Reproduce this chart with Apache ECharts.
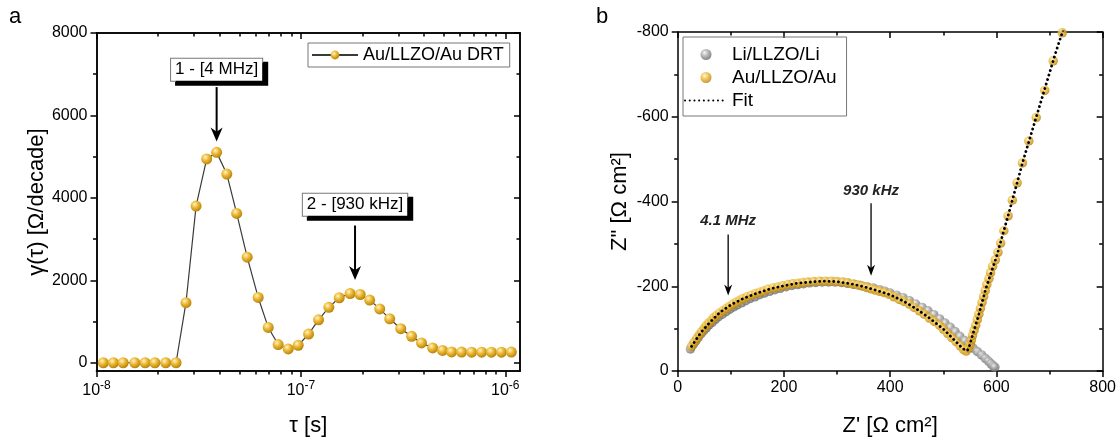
<!DOCTYPE html>
<html><head><meta charset="utf-8">
<script src="https://cdn.jsdelivr.net/npm/echarts@6/dist/echarts.min.js"></script>
<style>html,body{margin:0;padding:0;background:#fff}#c{width:1119px;height:442px}</style>
</head><body><div id="c"></div>
<script>
// ---------- Panel a: DRT ----------
const tauA = [1.08e-8, 1.21e-8, 1.35e-8, 1.54e-8, 1.73e-8, 1.93e-8, 2.18e-8, 2.45e-8, 2.74e-8, 3.07e-8,
  3.46e-8, 3.87e-8, 4.34e-8, 4.85e-8, 5.46e-8, 6.18e-8, 6.92e-8, 7.74e-8, 8.67e-8, 9.70e-8,
  1.09e-7, 1.22e-7, 1.37e-7, 1.54e-7, 1.74e-7, 1.95e-7, 2.17e-7, 2.43e-7, 2.72e-7, 3.08e-7,
  3.48e-7, 3.89e-7, 4.41e-7, 4.93e-7, 5.46e-7, 6.11e-7, 6.84e-7, 7.66e-7, 8.55e-7, 9.57e-7, 1.07e-6];
const gammaA = [0, 0, 0, 0, 0, 0, 0, 0, 1457, 3801,
  4944, 5104, 4577, 3624, 2561, 1584, 857, 442, 336, 425,
  696, 1042, 1344, 1577, 1680, 1656, 1521, 1306, 1066, 826,
  641, 480, 360, 298, 262, 258, 257, 257, 257, 257, 258];
const drtName = 'Au/LLZO/Au DRT';
const xMajorA = [1e-8, 1e-7, 1e-6];
const xMinorA = [2e-8, 3e-8, 4e-8, 5e-8, 6e-8, 7e-8, 8e-8, 9e-8, 2e-7, 3e-7, 4e-7, 5e-7, 6e-7, 7e-7, 8e-7, 9e-7];
const yMajorA = [0, 2000, 4000, 6000, 8000];
const yMinorA = [1000, 3000, 5000, 7000];
const peakLabelsA = ['1 - [4 MHz]', '2 - [930 kHz]'];
const peakTauA = [3.87e-8, 1.84e-7];

// ---------- Panel b: Nyquist ----------
const zreLi = [24, 29, 34, 39, 44, 49, 54, 59, 65, 71, 77, 84, 91, 98, 105, 112, 120, 128, 136, 145,
  154, 163, 173, 183, 193, 204, 215, 226, 237, 248, 260, 272, 284, 296, 308, 320, 332, 344, 356, 368,
  380, 390, 400, 412, 424, 436, 448, 460, 471, 482, 493, 503, 513, 522, 531, 540, 548, 556, 564, 572,
  579, 585, 590, 594, 597];
const zimLi = [-52, -62, -71, -80, -88, -95, -102, -109, -115, -122, -128, -134, -140, -146, -151, -156, -161, -166, -171, -175,
  -180, -184, -188, -192, -195, -199, -202, -204, -206, -208, -209, -210, -210, -210, -209, -207, -205, -202, -199, -196,
  -192, -188, -184, -179, -173, -166, -158, -150, -142, -133, -123, -113, -103, -93, -82, -72, -63, -54, -46, -38,
  -30, -23, -17, -12, -9];
const zreAu = [26, 31, 36, 41, 45, 50, 54, 59, 64, 68, 73, 79, 86, 92, 98, 104, 111, 117, 123, 131,
  139, 147, 155, 162, 170, 180, 189, 198, 208, 217, 227, 236, 245, 256, 267, 278, 289, 300, 311, 320,
  330, 339, 348, 356, 364, 372, 380, 389, 398, 407, 417, 426, 436, 445, 455, 464, 474, 483, 493, 500,
  508, 516, 524, 532, 538, 543, 548, 551, 553, 555, 558, 561, 564, 567, 570, 573, 576, 579, 582, 586,
  589, 593, 598, 603, 608, 614, 622, 630, 639, 649, 661, 675, 691, 707, 724];
const zimAu = [-58, -68, -77, -86, -93, -101, -108, -114, -120, -126, -131, -137, -143, -148, -153, -158, -163, -167, -171, -175,
  -179, -183, -186, -189, -193, -196, -198, -201, -204, -206, -207, -209, -210, -211, -212, -212, -212, -211, -210, -208,
  -205, -203, -200, -197, -194, -191, -188, -185, -181, -175, -169, -164, -158, -150, -142, -134, -125, -117, -108, -99,
  -89, -79, -69, -59, -51, -47, -54, -63, -73, -84, -96, -108, -121, -134, -148, -162, -176, -190, -204, -218,
  -232, -247, -262, -280, -302, -331, -366, -403, -444, -491, -543, -598, -662, -732, -798];
const zreFit = [26, 35, 45, 60, 80, 100, 125, 150, 175, 200, 225, 250, 275, 300, 325, 350, 375, 400, 425,
  450, 475, 500, 520, 535, 541, 545, 548, 555, 565, 580, 600, 625, 650, 680, 710, 730];
const zimFit = [-58, -75, -93, -114, -139, -156, -172, -184, -194, -201, -207, -210, -212, -211, -206, -199, -190, -180, -165,
  -146, -124, -99, -74, -55, -49, -48, -54, -84, -125, -194, -269, -380, -495, -620, -745, -822];
const seriesNamesB = ['Li/LLZO/Li', 'Au/LLZO/Au', 'Fit'];
const freqLabelsB = ['4.1 MHz', '930 kHz'];
const freqZreB = [95, 364];

// ---------- build ----------
const FONT = "'Liberation Sans', Arial, Helvetica, sans-serif";
const AX = {color: '#000', width: 1.5};
const zip = (a, b) => a.map((v, i) => [v, b[i]]);
function sphere(c0, c1, c2) {
  return new echarts.graphic.RadialGradient(0.38, 0.34, 0.66, [
    {offset: 0, color: c0}, {offset: 0.45, color: c1}, {offset: 1, color: c2}]);
}
const gold = sphere('#fff5c8', '#eebb38', '#b8840c');
const gray = sphere('#f5f5f5', '#a9a9a9', '#6a6a6a');
const supFmt = v => '10{s|' + Math.round(Math.log10(v)) + '}';
const plainFmt = v => String(v);

function logX(pos, vals, len, inside, labels, extra) {
  return Object.assign({
    type: 'log', gridIndex: 0, position: pos, min: 1e-8, max: 1.18e-6, logBase: 10,
    axisLine: {show: true, onZero: false, lineStyle: AX},
    axisTick: {show: true, inside: inside, length: len, customValues: vals, lineStyle: AX},
    axisLabel: labels ? {customValues: vals, formatter: supFmt, fontSize: 16, color: '#000', fontFamily: FONT, margin: 9,
      rich: {s: {fontSize: 12, fontFamily: FONT, color: '#000', padding: [0, 0, 9, 0]}}} : {show: false},
    splitLine: {show: false}, minorTick: {show: false}
  }, extra || {});
}
function valYA(pos, vals, len, inside, labels, extra) {
  return Object.assign({
    type: 'value', gridIndex: 0, position: pos, min: -200, max: 8000,
    axisLine: {show: true, onZero: false, lineStyle: AX},
    axisTick: {show: true, inside: inside, length: len, customValues: vals, lineStyle: AX},
    axisLabel: labels ? {customValues: vals, formatter: plainFmt, fontSize: 16, color: '#000', fontFamily: FONT, margin: 9} : {show: false},
    splitLine: {show: false}
  }, extra || {});
}

const option = {
  animation: false,
  backgroundColor: '#fff',
  textStyle: {fontFamily: FONT},
  grid: [
    {left: 96.5, top: 33, width: 423.5, height: 342},
    {left: 677.7, top: 32, width: 426, height: 342.5}
  ],
  xAxis: [
    logX('bottom', xMajorA, 6, false, true, {name: 'τ [s]', nameLocation: 'middle', nameGap: 44,
      nameTextStyle: {fontSize: 22, color: '#000', fontFamily: FONT}}),
    logX('bottom', xMinorA, 3.5, false, false),
    logX('top', xMajorA, 6, true, false),
    logX('top', xMinorA, 3.5, true, false),
    {type: 'value', gridIndex: 1, position: 'bottom', min: 0, max: 800, interval: 200,
      axisLine: {onZero: false, lineStyle: AX}, axisTick: {length: 6, lineStyle: AX},
      minorTick: {show: true, splitNumber: 2, length: 3.5, lineStyle: AX},
      axisLabel: {fontSize: 16, color: '#000', fontFamily: FONT, margin: 9}, splitLine: {show: false},
      name: "Z' [Ω cm²]", nameLocation: 'middle', nameGap: 44,
      nameTextStyle: {fontSize: 22, color: '#000', fontFamily: FONT}},
    {type: 'value', gridIndex: 1, position: 'top', min: 0, max: 800, interval: 200,
      axisLine: {onZero: false, lineStyle: AX}, axisTick: {inside: true, length: 6, lineStyle: AX},
      minorTick: {show: true, splitNumber: 2, length: 3.5, lineStyle: AX},
      axisLabel: {show: false}, splitLine: {show: false}}
  ],
  yAxis: [
    valYA('left', yMajorA, 6, false, true, {name: 'γ(τ) [Ω/decade]', nameLocation: 'middle', nameGap: 39, nameRotate: 90,
      nameTextStyle: {fontSize: 22, color: '#000', fontFamily: FONT}}),
    valYA('left', yMinorA, 3.5, false, false),
    valYA('right', yMajorA, 6, true, false),
    valYA('right', yMinorA, 3.5, true, false),
    {type: 'value', gridIndex: 1, position: 'left', min: -800, max: 0, interval: 200, inverse: true,
      axisLine: {onZero: false, lineStyle: AX}, axisTick: {length: 6, lineStyle: AX},
      minorTick: {show: true, splitNumber: 2, length: 3.5, lineStyle: AX},
      axisLabel: {fontSize: 16, color: '#000', fontFamily: FONT, margin: 9}, splitLine: {show: false},
      name: 'Z" [Ω cm²]', nameLocation: 'middle', nameGap: 47, nameRotate: 90,
      nameTextStyle: {fontSize: 22, color: '#000', fontFamily: FONT}},
    {type: 'value', gridIndex: 1, position: 'right', min: -800, max: 0, interval: 200, inverse: true,
      axisLine: {onZero: false, lineStyle: AX}, axisTick: {inside: true, length: 6, lineStyle: AX},
      minorTick: {show: true, splitNumber: 2, length: 3.5, lineStyle: AX},
      axisLabel: {show: false}, splitLine: {show: false}}
  ],
  legend: [
    {data: [drtName], left: 308, top: 43, selectedMode: false, borderColor: '#777', borderWidth: 1,
      padding: [3, 6, 3, 3], itemWidth: 46, itemHeight: 11, itemGap: 0,
      textStyle: {fontSize: 18, color: '#000', fontFamily: FONT}},
    {data: [seriesNamesB[0], seriesNamesB[1], {name: seriesNamesB[2], itemStyle: {opacity: 0}}],
      left: 683, top: 37, orient: 'vertical', selectedMode: false, borderColor: '#777', borderWidth: 1,
      padding: [8, 10, 6, 1], itemWidth: 42, itemHeight: 11, itemGap: 4,
      textStyle: {fontSize: 19, color: '#000', fontFamily: FONT}}
  ],
  series: [
    {name: drtName, type: 'line', xAxisIndex: 0, yAxisIndex: 0, data: zip(tauA, gammaA),
      symbol: 'circle', symbolSize: 11, showSymbol: true,
      lineStyle: {color: '#3a3a3a', width: 1.2}, itemStyle: {color: gold, borderWidth: 0}},
    {name: seriesNamesB[0], type: 'scatter', xAxisIndex: 4, yAxisIndex: 4, data: zip(zreLi, zimLi),
      symbol: 'circle', symbolSize: 9.5, itemStyle: {color: gray}},
    {name: seriesNamesB[1], type: 'scatter', xAxisIndex: 4, yAxisIndex: 4, data: zip(zreAu, zimAu),
      symbol: 'circle', symbolSize: 9.5, itemStyle: {color: gold}},
    {name: seriesNamesB[2], type: 'line', xAxisIndex: 4, yAxisIndex: 4, data: zip(zreFit, zimFit),
      symbol: 'none', clip: true, z: 5, itemStyle: {color: '#000'},
      lineStyle: {color: '#000', width: 2.8, type: [0.1, 4.6], cap: 'round'}}
  ]
};

const chart = echarts.init(document.getElementById('c'), null, {renderer: 'canvas'});
chart.setOption(option);

// ---------- annotations ----------
const gA = {xAxisIndex: 0, yAxisIndex: 0};
const gB = {xAxisIndex: 4, yAxisIndex: 4};
function arrow(x, y0, y1, w, hw, hl) {
  return [
    {type: 'line', shape: {x1: x, y1: y0, x2: x, y2: y1 - hl * 0.6}, style: {stroke: '#000', lineWidth: w}, z: 100},
    {type: 'polygon', shape: {points: [[x - hw, y1 - hl], [x, y1 - hl * 0.7], [x + hw, y1 - hl], [x, y1]]},
      style: {fill: '#000'}, z: 100}
  ];
}
const gr = [];
gr.push({type: 'text', left: 9, top: 6, style: {text: 'a', font: '22px ' + FONT, fill: '#000'}});
gr.push({type: 'text', left: 596, top: 6, style: {text: 'b', font: '22px ' + FONT, fill: '#000'}});
const boxG = [7108, 3832], arrFrom = [6688, 3329], arrTo = [5368, 2009];
peakLabelsA.forEach((t, i) => {
  const pb = chart.convertToPixel(gA, [peakTauA[i], boxG[i]]);
  const p0 = chart.convertToPixel(gA, [peakTauA[i], arrFrom[i]]);
  const p1 = chart.convertToPixel(gA, [peakTauA[i], arrTo[i]]);
  gr.push({type: 'text', x: pb[0], y: pb[1], z: 100, style: {
    text: t, font: '17px ' + FONT, fill: '#000', align: 'center', verticalAlign: 'middle',
    backgroundColor: '#fff', borderColor: '#777', borderWidth: 1, padding: [3, 4, 2, 4],
    shadowColor: '#000', shadowBlur: 0, shadowOffsetX: 5, shadowOffsetY: 4}});
  gr.push(...arrow(p0[0], p0[1], p1[1], 2, 6, 14));
});
const txtZ = [-354, -424], bFrom = [-322, -396], bTo = [-178, -225];
freqLabelsB.forEach((t, i) => {
  const pt = chart.convertToPixel(gB, [freqZreB[i], txtZ[i]]);
  const p0 = chart.convertToPixel(gB, [freqZreB[i], bFrom[i]]);
  const p1 = chart.convertToPixel(gB, [freqZreB[i], bTo[i]]);
  gr.push({type: 'text', x: pt[0], y: pt[1], z: 100, style: {
    text: t, font: 'italic bold 15px ' + FONT, fill: '#222', align: 'center', verticalAlign: 'middle'}});
  gr.push(...arrow(p0[0], p0[1], p1[1], 1.3, 4, 11));
});
chart.setOption({graphic: gr});
</script></body></html>
